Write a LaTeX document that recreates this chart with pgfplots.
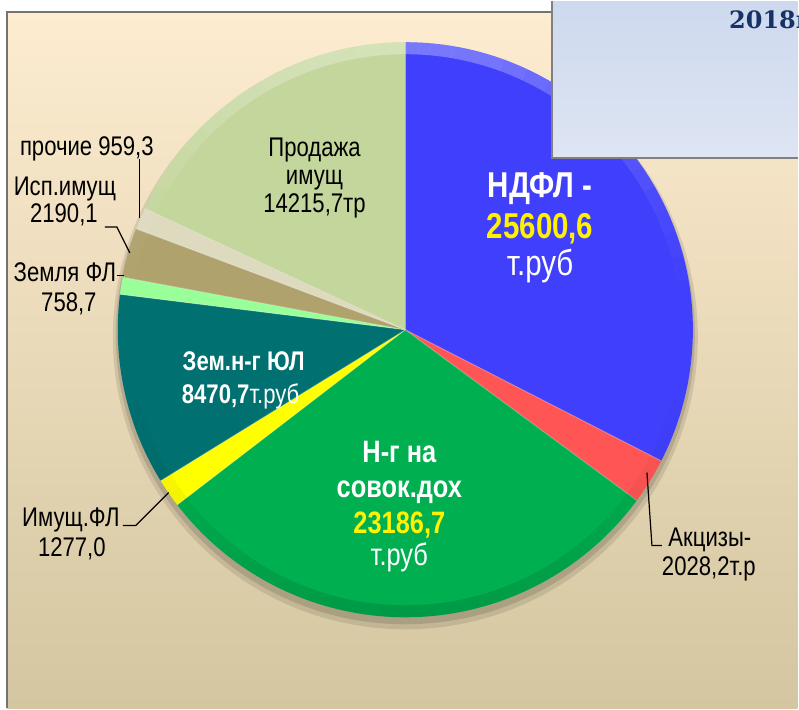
\documentclass[border=0pt]{standalone}
\usepackage{pgfplots}
\usepackage{pgfplotstable}
\pgfplotsset{compat=1.18}
\usepackage{xfp}
\usepackage{fontspec}
\setmainfont{Liberation Sans}[FakeStretch=0.82]
\newfontfamily\yearfont{DejaVu Serif}

\definecolor{cNDFL}{RGB}{64,64,252}
\definecolor{cAkc}{RGB}{255,85,85}
\definecolor{cNG}{RGB}{0,176,80}
\definecolor{cImFL}{RGB}{255,255,0}
\definecolor{cZemUL}{RGB}{0,112,112}
\definecolor{cZemFL}{RGB}{153,255,153}
\definecolor{cIsp}{RGB}{176,162,108}
\definecolor{cProch}{RGB}{222,218,192}
\definecolor{cProd}{RGB}{195,214,155}
\definecolor{bgTop}{RGB}{253,236,208}
\definecolor{bgBot}{RGB}{212,198,160}
\definecolor{boxTop}{RGB}{205,217,238}
\definecolor{boxBot}{RGB}{222,229,243}
\definecolor{navy}{RGB}{23,50,100}

% values of the pie (thousand roubles)
\pgfplotstableread{
name value
NDFL 25600.6
Akcizy 2028.2
NgSovDoh 23186.7
ImuschFL 1277.0
ZemUL 8470.7
ZemFL 758.7
IspImusch 2190.1
Prochie 959.3
Prodazha 14215.7
}\piedata

\newcommand\slice[2]{%
  \fill[#2] (axis cs:406,329) -- ([shift={(\csname sA#1\endcsname:144pt)}]axis cs:406,329)
    arc[start angle=\csname sA#1\endcsname, end angle=\csname sB#1\endcsname, radius=144pt] -- cycle;
  \draw[white, draw opacity=0.25, line width=0.5pt] (axis cs:406,329) -- ([shift={(\csname sA#1\endcsname:144pt)}]axis cs:406,329);
}
% rim segment for a bevel look
\newcommand\rim[4]{%
  \fill[#3, fill opacity=#4] ([shift={(#1:144pt)}]axis cs:406,329)
    arc[start angle=#1, end angle=#2, radius=144pt]
    -- ([shift={(#2:138pt)}]axis cs:406,329)
    arc[start angle=#2, end angle=#1, radius=138pt] -- cycle;
}

\tikzset{
  big/.style={font=\fontsize{18}{21}\selectfont, anchor=base, inner sep=0pt},
  mid/.style={font=\fontsize{15.5}{18}\selectfont, anchor=base, inner sep=0pt},
  sm/.style={font=\fontsize{13.5}{16}\selectfont, anchor=base, inner sep=0pt},
  lab/.style={font=\fontsize{13.5}{16}\selectfont, anchor=base, inner sep=0pt},
}

\begin{document}%
\gdef\total{0}%
\pgfplotsforeachungrouped \i in {0,1,2,3,4,5,6,7,8}{%
  \pgfplotstablegetelem{\i}{value}\of\piedata%
  \xdef\total{\fpeval{\total+\pgfplotsretval}}%
}%
\gdef\cum{90}%
\pgfplotsforeachungrouped \i in {0,1,2,3,4,5,6,7,8}{%
  \pgfplotstablegetelem{\i}{value}\of\piedata%
  \expandafter\xdef\csname sA\i\endcsname{\cum}%
  \xdef\cum{\fpeval{\cum-360*\pgfplotsretval/\total}}%
  \expandafter\xdef\csname sB\i\endcsname{\cum}%
}%
\begin{tikzpicture}
\begin{axis}[
  scale only axis, width=399.5pt, height=354pt,
  xmin=0, xmax=799, ymin=0, ymax=708, y dir=reverse,
  hide axis, clip=false,
]
% frame and background
\fill[white] (axis cs:0,0) rectangle (axis cs:799,708);
\shade[top color=bgTop, bottom color=bgBot] (axis cs:7,11) rectangle (axis cs:799,708);
\draw[gray!90!black, line width=1.2pt] (axis cs:7,708) -- (axis cs:7,11) -- (axis cs:799,11);

% shadow
\fill[black, fill opacity=0.10] (axis cs:406,336) circle[radius=146.5pt];
\fill[black, fill opacity=0.12] (axis cs:406,334) circle[radius=145pt];

% slices
\slice{0}{cNDFL}
\slice{1}{cAkc}
\slice{2}{cNG}
\slice{3}{cImFL}
\slice{4}{cZemUL}
\slice{5}{cZemFL}
\slice{6}{cIsp}
\slice{7}{cProch}
\slice{8}{cProd}

% bevel: light rim on top, darker rim below
\pgfplotsinvokeforeach{10,15,...,165}{\rim{#1}{#1+5}{white}{0.30*sin(#1+2.5)^2}}
\pgfplotsinvokeforeach{195,200,...,340}{\rim{#1}{#1+5}{black}{0.12*sin(#1+2.5)^2}}

% labels inside
\node[big, white, font=\fontsize{18}{21}\selectfont\bfseries] at (axis cs:541,197) {НДФЛ -};
\node[big, yellow, font=\fontsize{18}{21}\selectfont\bfseries] at (axis cs:541,238) {25600,6};
\node[big, white] at (axis cs:541,275) {т.руб};

\node[mid, white, font=\fontsize{15.5}{18}\selectfont\bfseries] at (axis cs:400,462) {Н-г на};
\node[mid, white, font=\fontsize{15.5}{18}\selectfont\bfseries] at (axis cs:400,497) {совок.дох};
\node[mid, yellow, font=\fontsize{15.5}{18}\selectfont\bfseries] at (axis cs:400,533) {23186,7};
\node[mid, white] at (axis cs:400,565) {т.руб};

\node[sm, white, font=\fontsize{13.5}{16}\selectfont\bfseries] at (axis cs:244,370) {Зем.н-г ЮЛ};
\node[sm, white] at (axis cs:241,403) {\textbf{8470,7}т.руб};

\node[lab] at (axis cs:315,155) {Продажа};
\node[lab] at (axis cs:315,184) {имущ};
\node[lab] at (axis cs:315,212) {14215,7тр};

% outer labels
\node[lab] at (axis cs:87,154) {прочие 959,3};
\node[lab] at (axis cs:65,195) {Исп.имущ};
\node[lab] at (axis cs:64,222) {2190,1};
\node[lab] at (axis cs:65,281) {Земля ФЛ};
\node[lab] at (axis cs:69,311) {758,7};
\node[lab] at (axis cs:71,526) {Имущ.ФЛ};
\node[lab] at (axis cs:72,556) {1277,0};
\node[lab] at (axis cs:711,546) {Акцизы-};
\node[lab] at (axis cs:710,575) {2028,2т.р};

% leader lines
\draw[black, line width=0.6pt] (axis cs:140,158) -- (axis cs:140,217);
\draw[black, line width=0.6pt] (axis cs:105,226) -- (axis cs:117,226) -- (axis cs:130,252);
\draw[black, line width=0.6pt] (axis cs:117,275) -- (axis cs:124,275);
\draw[black, line width=0.6pt] (axis cs:123,525) -- (axis cs:136,525) -- (axis cs:169,492);
\draw[black, line width=0.6pt] (axis cs:648,472) -- (axis cs:653,545) -- (axis cs:663,545);

% title box at top right
\shade[top color=boxTop, bottom color=boxBot] (axis cs:553,0) rectangle (axis cs:799,157);
\draw[gray, line width=1.3pt] (axis cs:553,0) -- (axis cs:553,157) -- (axis cs:799,157);
\node[overlay, anchor=base west, inner sep=0pt, text=navy, font=\yearfont\fontsize{12}{14}\selectfont\bfseries] at (axis cs:730,27) {2018г};
\end{axis}
\end{tikzpicture}%
\end{document}
